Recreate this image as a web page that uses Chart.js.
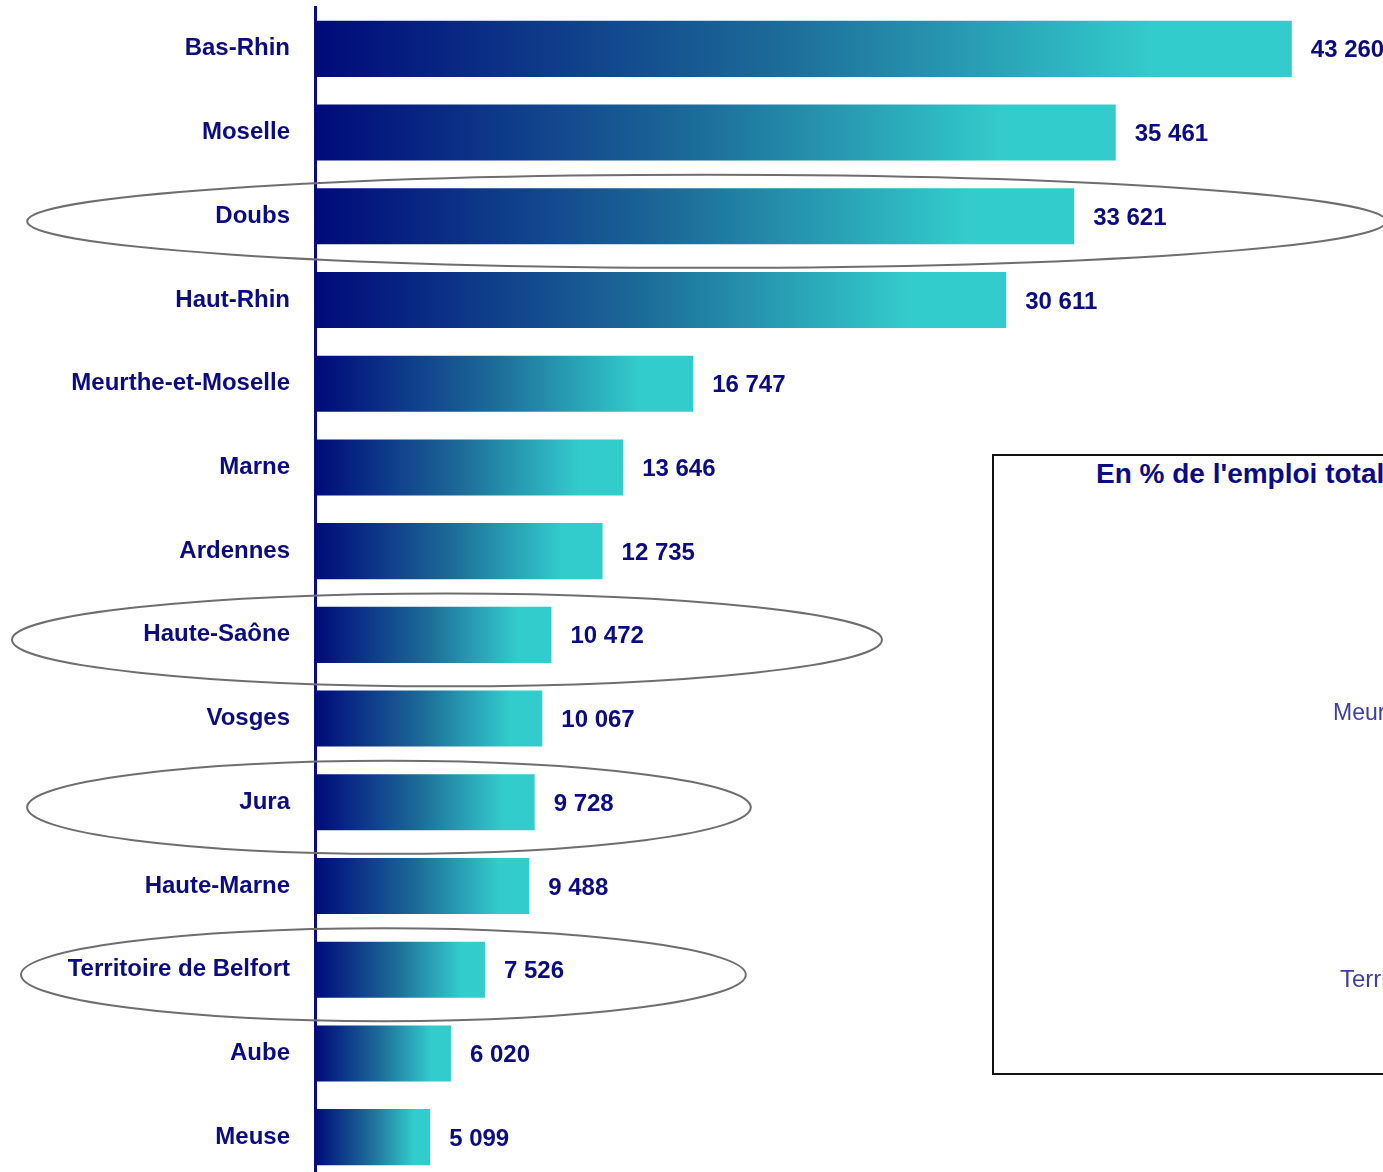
<!DOCTYPE html>
<html>
<head>
<meta charset="utf-8">
<script src="https://cdn.jsdelivr.net/npm/chart.js@4/dist/chart.umd.min.js"></script>
<style>
  html, body { margin: 0; padding: 0; background: #fff; overflow: hidden; width: 1383px; height: 1172px; }
  #wrap { position: absolute; left: 0; top: 0; width: 1460px; height: 1180px; }
  #inset { position: absolute; left: 992px; top: 454px; width: 520px; height: 617px; border: 2.5px solid #111; background: #fff; font-family: "Liberation Sans", Arial, sans-serif; }
  #inset .title { position: absolute; left: 102px; top: 2px; font-weight: bold; font-size: 28px; color: #0b0b84; white-space: nowrap; }
  #inset .lbl { position: absolute; font-size: 24px; color: #3d3da6; white-space: nowrap; }
</style>
</head>
<body>
<div id="wrap"><canvas id="c"></canvas></div>
<div id="inset">
  <div class="title">En % de l'emploi total</div>
  <div class="lbl" style="left:339px; top:243px; font-size:23px;">Meurthe-et-Moselle</div>
  <div class="lbl" style="left:346px; top:509px;">Territoire de Belfort</div>
</div>
<script>
// ---- Data ----
const categories = ["Bas-Rhin", "Moselle", "Doubs", "Haut-Rhin", "Meurthe-et-Moselle", "Marne", "Ardennes",
  "Haute-Saône", "Vosges", "Jura", "Haute-Marne", "Territoire de Belfort", "Aube", "Meuse"];
const values = [43260, 35461, 33621, 30611, 16747, 13646, 12735, 10472, 10067, 9728, 9488, 7526, 6020, 5099];
// highlighted categories (ellipses), with horizontal extent in data units
const highlighted = ["Doubs", "Haute-Saône", "Jura", "Territoire de Belfort"];
const highlightFrom = [-12750, -13420, -12750, -13020];
const highlightTo = [47450, 25110, 19300, 19080];

const NAVY = "#000a7a";
const CYAN = "#33cccc";
const fmt = v => String(v).replace(/\B(?=(\d{3})+(?!\d))/g, " ");

const barGradient = (ctx) => {
  const chart = ctx.chart;
  if (!chart.chartArea || ctx.dataIndex === undefined) return NAVY;
  const xs = chart.scales.x;
  const x0 = xs.getPixelForValue(0);
  const x1 = xs.getPixelForValue(values[ctx.dataIndex]);
  const g = chart.ctx.createLinearGradient(x0, 0, x1, 0);
  g.addColorStop(0, NAVY);
  g.addColorStop(0.47, "#1c6a98");
  g.addColorStop(0.86, CYAN);
  g.addColorStop(1, CYAN);
  return g;
};

const overlay = {
  id: "overlay",
  afterDatasetsDraw(chart) {
    const ctx = chart.ctx;
    const meta = chart.getDatasetMeta(0);
    ctx.save();
    ctx.font = "bold 24px 'Liberation Sans', Arial, sans-serif";
    ctx.fillStyle = "#0b0b84";
    ctx.textAlign = "left";
    ctx.textBaseline = "middle";
    meta.data.forEach((bar, i) => {
      ctx.fillText(fmt(values[i]), bar.x + 19, bar.y + 2);
    });
    // ellipses
    const xs = chart.scales.x, ys = chart.scales.y;
    const step = Math.abs(ys.getPixelForValue(1) - ys.getPixelForValue(0));
    ctx.strokeStyle = "#6e6e6e";
    ctx.lineWidth = 2;
    highlighted.forEach((name, k) => {
      const idx = categories.indexOf(name);
      const cy = ys.getPixelForValue(idx) + 5;
      const l = xs.getPixelForValue(highlightFrom[k]);
      const r = xs.getPixelForValue(highlightTo[k]);
      ctx.beginPath();
      ctx.ellipse((l + r) / 2, cy, (r - l) / 2, step * 0.555, 0, 0, Math.PI * 2);
      ctx.stroke();
    });
    ctx.restore();
  }
};

new Chart(document.getElementById("c"), {
  type: "bar",
  data: {
    labels: categories,
    datasets: [{
      data: values,
      backgroundColor: barGradient,
      borderWidth: 0,
      categoryPercentage: 1,
      barPercentage: 0.67
    }]
  },
  options: {
    indexAxis: "y",
    responsive: true,
    maintainAspectRatio: false,
    animation: false,
    layout: { padding: { top: 7, bottom: 1, left: 0, right: 16 } },
    plugins: { legend: { display: false }, tooltip: { enabled: false } },
    scales: {
      x: { display: false, min: 0, max: 50000 },
      y: {
        afterFit: s => { s.width = 315; s.paddingTop = 0; s.paddingBottom = 0; },
        grid: { display: false, drawTicks: false },
        border: { display: true, color: "#0a0a8a", width: 3 },
        ticks: {
          color: "#0b0b84",
          padding: 25,
          font: { family: "'Liberation Sans', Arial, sans-serif", size: 24, weight: "bold" }
        }
      }
    }
  },
  plugins: [overlay]
});
</script>
</body>
</html>
